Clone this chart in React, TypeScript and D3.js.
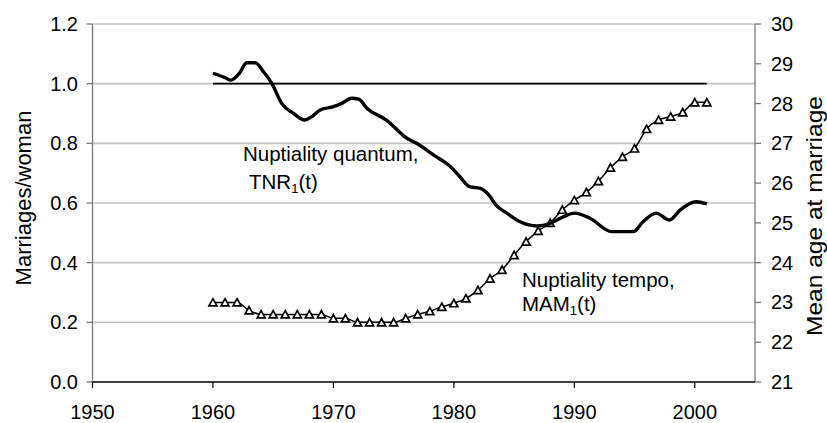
import React from "react";
import * as d3 from "d3";

// TNR1(t) — nuptiality quantum (left axis)
const tnrYears = [1960.0, 1961.0, 1961.5, 1962.2, 1962.8, 1963.5, 1964.2, 1964.9, 1965.7, 1966.7, 1967.6, 1968.2, 1968.9, 1970.0, 1970.7, 1971.5, 1972.1, 1972.8, 1974.4, 1976.1, 1976.9, 1978.3, 1979.7, 1980.5, 1981.3, 1982.2, 1982.9, 1983.5, 1984.4, 1985.5, 1986.9, 1988.0, 1989.1, 1990.0, 1991.3, 1993.1, 1994.9, 1995.7, 1996.8, 1997.9, 1998.8, 2000.1, 2001.0];
const tnrValues = [1.035, 1.02, 1.012, 1.035, 1.07, 1.07, 1.04, 1.0, 0.934, 0.9, 0.878, 0.889, 0.912, 0.923, 0.934, 0.951, 0.948, 0.917, 0.878, 0.817, 0.8, 0.761, 0.722, 0.688, 0.655, 0.649, 0.627, 0.593, 0.566, 0.537, 0.523, 0.532, 0.554, 0.566, 0.549, 0.504, 0.504, 0.537, 0.566, 0.543, 0.577, 0.604, 0.597];

// MAM1(t) — mean age at marriage (right axis)
const mamYears = [1960, 1961, 1962, 1963, 1964, 1965, 1966, 1967, 1968, 1969, 1970, 1971, 1972, 1973, 1974, 1975, 1976, 1977, 1978, 1979, 1980, 1981, 1982, 1983, 1984, 1985, 1986, 1987, 1988, 1989, 1990, 1991, 1992, 1993, 1994, 1995, 1996, 1997, 1998, 1999, 2000, 2001];
const mamValues = [23.0, 23.0, 23.0, 22.8, 22.7, 22.7, 22.7, 22.7, 22.7, 22.7, 22.6, 22.6, 22.5, 22.5, 22.5, 22.5, 22.6, 22.7, 22.78, 22.89, 22.98, 23.1, 23.31, 23.6, 23.82, 24.19, 24.53, 24.8, 25.0, 25.33, 25.57, 25.77, 26.05, 26.39, 26.66, 26.87, 27.36, 27.59, 27.67, 27.78, 28.03, 28.03];

// Reference line at 1.0
const refYears = [1960, 2001];
const refValue = 1.0;

const xTicks = [1950, 1960, 1970, 1980, 1990, 2000];
const leftTicks = [0, 0.2, 0.4, 0.6, 0.8, 1.0, 1.2];
const rightTicks = [21, 22, 23, 24, 25, 26, 27, 28, 29, 30];

const W = 827;
const H = 423;
const FONT = "'Liberation Sans', Arial, sans-serif";

export default function App() {
  const x = d3.scaleLinear().domain([1950, 2005]).range([92.5, 755]);
  const yL = d3.scaleLinear().domain([0, 1.2]).range([382, 24]);
  const yR = d3.scaleLinear().domain([21, 30]).range([382, 24]);

  const tnrLine = d3
    .line<number>()
    .x((_, i) => x(tnrYears[i]))
    .y((d) => yL(d))
    .curve(d3.curveMonotoneX)(tnrValues) as string;

  const mamLine = d3
    .line<number>()
    .x((_, i) => x(mamYears[i]))
    .y((d) => yR(d))
    .curve(d3.curveMonotoneX)(mamValues) as string;

  const tri = "M0,-3.8 L4,3.5 L-4,3.5 Z";
  const x0 = x(1950);
  const x1 = x(2005);

  return (
    <div style={{ position: "absolute", left: 0, top: 0 }}>
      <svg width={W} height={H} style={{ display: "block", background: "#fff" }} fontFamily={FONT}>
        {/* gridlines */}
        {leftTicks.filter((t) => t > 0).map((t) => (
          <line key={"g" + t} x1={x0} x2={x1} y1={yL(t)} y2={yL(t)} stroke="#c4c4c4" strokeWidth={1.6} />
        ))}
        {/* left axis */}
        <line x1={x0} x2={x0} y1={yL(1.2)} y2={yL(0)} stroke="#7a7a7a" strokeWidth={1.3} />
        {leftTicks.map((t) => (
          <g key={"l" + t}>
            <line x1={x0 - 6} x2={x0} y1={yL(t)} y2={yL(t)} stroke="#7a7a7a" strokeWidth={1.3} />
            <text x={78} y={yL(t)} dy="0.35em" textAnchor="end" fontSize={20} fill="#000">
              {t.toFixed(1)}
            </text>
          </g>
        ))}
        {/* right axis */}
        <line x1={x1} x2={x1} y1={yR(30)} y2={yR(21)} stroke="#7a7a7a" strokeWidth={1.3} />
        {rightTicks.map((t) => (
          <g key={"r" + t}>
            <line x1={x1} x2={x1 + 6} y1={yR(t)} y2={yR(t)} stroke="#7a7a7a" strokeWidth={1.3} />
            <text x={771} y={yR(t)} dy="0.35em" textAnchor="start" fontSize={20} fill="#000">
              {t}
            </text>
          </g>
        ))}
        {/* bottom axis */}
        <line x1={x0} x2={x1} y1={yL(0)} y2={yL(0)} stroke="#000" strokeWidth={1.4} />
        {xTicks.map((t) => (
          <g key={"x" + t}>
            <line x1={x(t)} x2={x(t)} y1={yL(0)} y2={yL(0) + 6} stroke="#000" strokeWidth={1.2} />
            <text x={x(t)} y={419} textAnchor="middle" fontSize={20} fill="#000">
              {t}
            </text>
          </g>
        ))}

        {/* reference line at 1.0 */}
        <line x1={x(refYears[0])} x2={x(refYears[1])} y1={yL(refValue)} y2={yL(refValue)} stroke="#000" strokeWidth={1.8} />

        {/* MAM line with triangles */}
        <path d={mamLine} fill="none" stroke="#000" strokeWidth={1.5} />
        {mamValues.map((v, i) => (
          <path
            key={"m" + i}
            d={tri}
            transform={`translate(${x(mamYears[i])},${yR(v)})`}
            fill="#fff"
            stroke="#000"
            strokeWidth={1.7}
            strokeLinejoin="miter"
          />
        ))}

        {/* TNR line */}
        <path d={tnrLine} fill="none" stroke="#000" strokeWidth={3.4} strokeLinejoin="round" strokeLinecap="butt" />

        {/* annotations */}
        <text x={243} y={161} fontSize={20.5} fill="#000">Nuptiality quantum,</text>
        <text x={249} y={189} fontSize={20.5} fill="#000">
          TNR<tspan fontSize={13} dy={4}>1</tspan>
          <tspan dy={-4}>(t)</tspan>
        </text>
        <text x={522} y={287} fontSize={20.5} fill="#000">Nuptiality tempo,</text>
        <text x={522} y={311} fontSize={20.5} fill="#000">
          MAM<tspan fontSize={13} dy={4}>1</tspan>
          <tspan dy={-4}>(t)</tspan>
        </text>

        {/* axis titles */}
        <text transform="translate(31,198) rotate(-90)" textAnchor="middle" fontSize={22} fill="#000">
          Marriages/woman
        </text>
        <text
          transform="translate(822,216) rotate(-90)"
          textAnchor="middle"
          fontSize={22}
          fill="#000"
          textLength={240}
          lengthAdjust="spacingAndGlyphs"
        >
          Mean age at marriage
        </text>
      </svg>
    </div>
  );
}
